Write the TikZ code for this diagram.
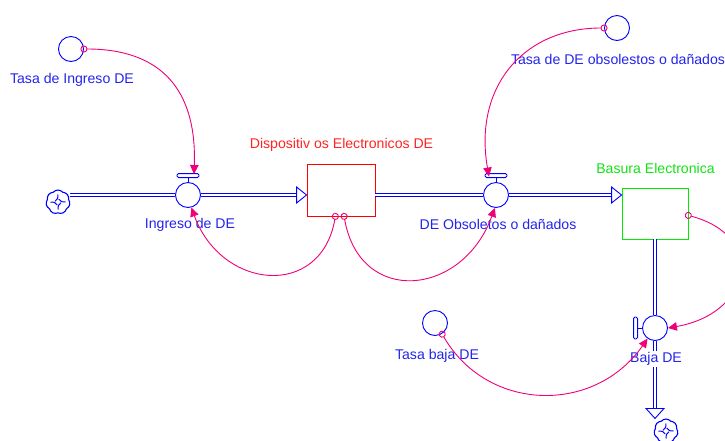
\documentclass[tikz,border=0pt]{standalone}
\usepackage{fontspec}
\setmainfont{Liberation Sans}
\usepackage{tikz}
\usetikzlibrary{positioning, calc}
\usetikzlibrary{arrows.meta}
\usetikzlibrary{shapes.symbols}
\definecolor{vblue}{RGB}{0,0,255}
\definecolor{vtext}{RGB}{35,35,235}
\definecolor{vred}{RGB}{255,0,0}
\definecolor{vredtext}{RGB}{255,35,35}
\definecolor{vgreen}{RGB}{0,235,0}
\definecolor{vgreentext}{RGB}{20,225,20}
\definecolor{vpink}{RGB}{240,0,120}

\begin{document}
\begin{tikzpicture}[x=1pt,y=1pt]
	\def \flowrow{-195}
	\def \auxrowtop{-49}
	\def \auxrowlow{-323}
	\tikzstyle{c-node}=[cloud, cloud puffs=7, cloud puff arc=100, aspect=1, draw=vblue, line width=1.1pt, minimum size=24pt, inner sep=0pt]
	\tikzstyle{s-node}=[rectangle, line width=0.9pt, minimum width=68pt, minimum height=52pt, inner sep=0pt]
	\tikzstyle{v-node}=[circle, draw=vblue, line width=0.9pt, fill=white, minimum size=25pt, inner sep=0pt]
	\tikzstyle{a-node}=[circle, draw=vblue, line width=0.9pt, minimum size=25pt, inner sep=0pt]
	\tikzstyle{lbl}=[text=vtext, font=\fontsize{14.1}{16}\selectfont, inner sep=1pt]
	\tikzstyle{pipe}=[draw=vblue, line width=0.9pt, double=white, double distance=2pt]
	\tikzstyle{pipe-head}=[draw=vblue, line width=0.9pt, fill=white, line join=miter]
	\tikzstyle{handle}=[draw=vblue, line width=0.9pt, fill=white, rounded corners=1.5pt]
	\tikzstyle{link}=[draw=vpink, line width=0.9pt, {Circle[open,length=7pt,width=7pt]}-{Triangle[length=9pt,width=8.5pt]}]
	\useasboundingbox (0,0) rectangle (725,-440);

	% clouds
	\node[c-node] (cl1) at (58,-202) {};
	\node[c-node] (cl2) at (666,-431) {};
	\foreach \c in {cl1, cl2}
		\foreach \a in {0,90,180,270}
			\draw[vblue, line width=1pt] ($(\c)+(\a:7.5)$) to[bend left=35] ($(\c)+(\a+75:3)$);

	% stocks
	\node[s-node, draw=vred] (s1) at (341,-190) {};
	\node[s-node, draw=vgreen, minimum width=66pt, minimum height=51pt] (s2) at (655,-213.5) {};

	% valves
	\node[v-node] (v1) at (188,\flowrow) {};
	\node[v-node] (v2) at (496,\flowrow) {};
	\node[v-node] (v3) at (655,-328) {};
	\draw[vblue, line width=0.9pt] (v1.north) -- ++(0,4.5);
	\draw[handle] ($(v1.north)+(-11,4.5)$) rectangle ($(v1.north)+(11,8.5)$);
	\draw[vblue, line width=0.9pt] (v2.north) -- ++(0,4.5);
	\draw[handle] ($(v2.north)+(-11,4.5)$) rectangle ($(v2.north)+(11,8.5)$);
	\draw[vblue, line width=0.9pt] (v3.west) -- ++(-4.5,0);
	\draw[handle] ($(v3.west)+(-4.5,-11)$) rectangle ($(v3.west)+(-8.5,11)$);

	% auxiliaries
	\node[a-node] (a1) at (71,\auxrowtop) {};
	\node[a-node] (a2) at (617,-28) {};
	\node[a-node] (a3) at (435,\auxrowlow) {};

	% flows
	\draw[pipe] (cl1.east |- v1) -- (v1);
	\draw[pipe, shorten >=9pt] (v1) -- (v1 -| s1.west);
	\draw[pipe-head] (v1 -| s1.west) -- ++(-10,8) -- ++(0,-16) -- cycle;
	\draw[pipe] (v2 -| s1.east) -- (v2);
	\draw[pipe, shorten >=9pt] (v2) -- (v2 -| s2.west);
	\draw[pipe-head] (v2 -| s2.west) -- ++(-10,8) -- ++(0,-16) -- cycle;
	\draw[pipe] (s2.south) -- (v3);
	\draw[pipe, shorten >=9pt] (v3) -- (v3 |- cl2.north);
	\draw[pipe-head] (v3 |- cl2.north) -- ++(-9,10) -- ++(18,0) -- cycle;

	% labels
	\node[lbl] (l-a1) at (72,-80) {Tasa de Ingreso DE};
	\node[lbl] (l-v1) at (190,-225) {Ingreso de DE};
	\node[lbl, text=vredtext] (l-s1) at (341.5,-145) {Dispositiv os Electronicos DE};
	\node[lbl] (l-v2) at (498,-224) {DE Obsoletos o dañados};
	\node[lbl, text=vgreentext] (l-s2) at (655.5,-168) {Basura Electronica};
	\node[lbl] (l-a2) at (618,-59) {Tasa de DE obsolestos o dañados};
	\node[lbl] (l-a3) at (437,-356) {Tasa baja DE};
	\node[lbl, fill=white] (l-v3) at (656,-359) {Baja DE};

	% links
	\path[link] ($(a1.east)+(-3.5,0)$) to[out=0, in=88, out distance=80pt, in distance=85pt] ($(v1.north)+(6,8)$);
	\path[link] ($(a2.west)+(3.5,0)$) to[out=180, in=100, out distance=85pt, in distance=90pt] ($(v2.north)+(-7,5.5)$);
	\path[link] ($(s1.south)+(-5,3.5)$) to[out=-100, in=-70, looseness=1.55] (v1.-75);
	\path[link] ($(s1.south)+(2.5,3.5)$) to[out=-80, in=-110, looseness=1.6] (v2.-95);
	\path[link] ($(s2.east)+(-3.5,-1)$) to[out=-15, in=10, looseness=1.9] (v3.east);
	\path[link] ($(a3.-55)+(-2,2.5)$) to[out=-60, in=-125, looseness=1.15] (v3.-125);
\end{tikzpicture}
\end{document}
